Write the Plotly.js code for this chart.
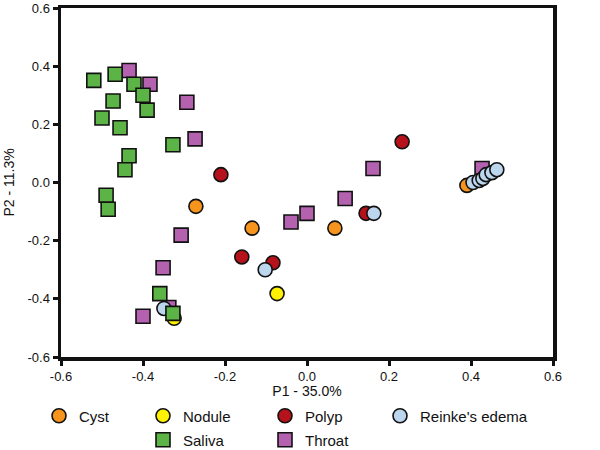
<!DOCTYPE html>
<html>
<head>
<meta charset="utf-8">
<script src="https://cdn.plot.ly/plotly-3.0.1.min.js"></script>
<style>html,body{margin:0;padding:0;background:#fff;}#chart{width:600px;height:450px;}</style>
</head>
<body>
<div id="chart"></div>
<script>
// ---- Data (P1, P2 coordinates) ----
var cystX = [-0.271, -0.134, 0.068, 0.390];
var cystY = [-0.082, -0.157, -0.157, -0.010];

var noduleX = [-0.073, -0.324];
var noduleY = [-0.382, -0.467];

var polypX = [-0.210, -0.159, -0.083, 0.144, 0.232];
var polypY = [0.027, -0.256, -0.276, -0.106, 0.140];

var reinkeX = [-0.349, -0.102, 0.163, 0.405, 0.420, 0.429, 0.437, 0.451, 0.463];
var reinkeY = [-0.433, -0.300, -0.106, 0.000, 0.007, 0.014, 0.027, 0.034, 0.044];

var salivaX = [-0.520, -0.468, -0.422, -0.400, -0.473, -0.390, -0.500, -0.456, -0.327, -0.434, -0.444, -0.490, -0.485, -0.359, -0.327];
var salivaY = [0.351, 0.372, 0.338, 0.300, 0.280, 0.249, 0.222, 0.188, 0.130, 0.092, 0.044, -0.044, -0.092, -0.382, -0.450];

var throatX = [-0.434, -0.383, -0.293, -0.273, -0.307, -0.351, -0.337, -0.400, -0.039, 0.000, 0.093, 0.161, 0.427];
var throatY = [0.385, 0.338, 0.276, 0.150, -0.181, -0.293, -0.430, -0.460, -0.136, -0.106, -0.055, 0.048, 0.048];

var tickVals = [-0.6, -0.4, -0.2, 0.0, 0.2, 0.4, 0.6];
var tickText = ['-0.6', '-0.4', '-0.2', '0.0', '0.2', '0.4', '0.6'];

// ---- Styling ----
var FONT = 'Liberation Sans, Arial, sans-serif';
function mk(sym, color) {
  return {symbol: sym, size: 14, color: color, line: {color: '#111', width: 1.6}};
}
function tr(name, x, y, sym, color, legendId) {
  return {type: 'scatter', mode: 'markers', name: name, x: x, y: y,
          marker: mk(sym, color), legend: legendId, showlegend: true, cliponaxis: false};
}

var data = [
  tr('Cyst', cystX, cystY, 'circle', '#F7941E', 'legend'),
  tr('Nodule', noduleX, noduleY, 'circle', '#FFF200', 'legend2'),
  tr('Polyp', polypX, polypY, 'circle', '#B5121B', 'legend3'),
  tr('Throat', throatX, throatY, 'square', '#B462B0', 'legend6'),
  tr("Reinke's edema", reinkeX, reinkeY, 'circle', '#BCD6EE', 'legend4'),
  tr('Saliva', salivaX, salivaY, 'square', '#5CB346', 'legend5')
];

// legend placement helpers (pixel -> paper / container)
var W = 600, H = 450;
var L = 61, R = 553, T = 8, B = 357;
function px(p) { return (p - L) / (R - L); }
function leg(markerX, rowY) {
  return {x: px(markerX - 20), xanchor: 'left',
          yref: 'container', y: (H - rowY) / H, yanchor: 'middle',
          orientation: 'h', bgcolor: 'rgba(0,0,0,0)', borderwidth: 0,
          font: {family: FONT, size: 15, color: '#111'}, itemclick: false};
}

var axisCommon = {
  range: [-0.6, 0.6], tickvals: tickVals, ticktext: tickText,
  showgrid: false, zeroline: false, showline: true, mirror: true,
  linecolor: '#111', linewidth: 3.5, ticks: 'outside', ticklen: 5, tickwidth: 3,
  tickcolor: '#111', tickfont: {family: FONT, size: 13, color: '#111'}
};

var layout = {
  width: W, height: H,
  margin: {l: L, r: W - R, t: T, b: H - B},
  paper_bgcolor: '#fff', plot_bgcolor: '#fff',
  font: {family: FONT, color: '#111'},
  xaxis: Object.assign({}, axisCommon, {title: {text: 'P1 - 35.0%', font: {family: FONT, size: 14, color: '#111'}, standoff: 6}}),
  yaxis: Object.assign({}, axisCommon, {title: {text: 'P2 - 11.3%', font: {family: FONT, size: 14, color: '#111'}, standoff: 10}}),
  legend: leg(59, 416),
  legend2: leg(163, 416),
  legend3: leg(285, 416),
  legend4: leg(400, 416),
  legend5: leg(163, 440),
  legend6: leg(285, 440)
};

Plotly.newPlot('chart', data, layout, {staticPlot: true, displayModeBar: false});
</script>
</body>
</html>
